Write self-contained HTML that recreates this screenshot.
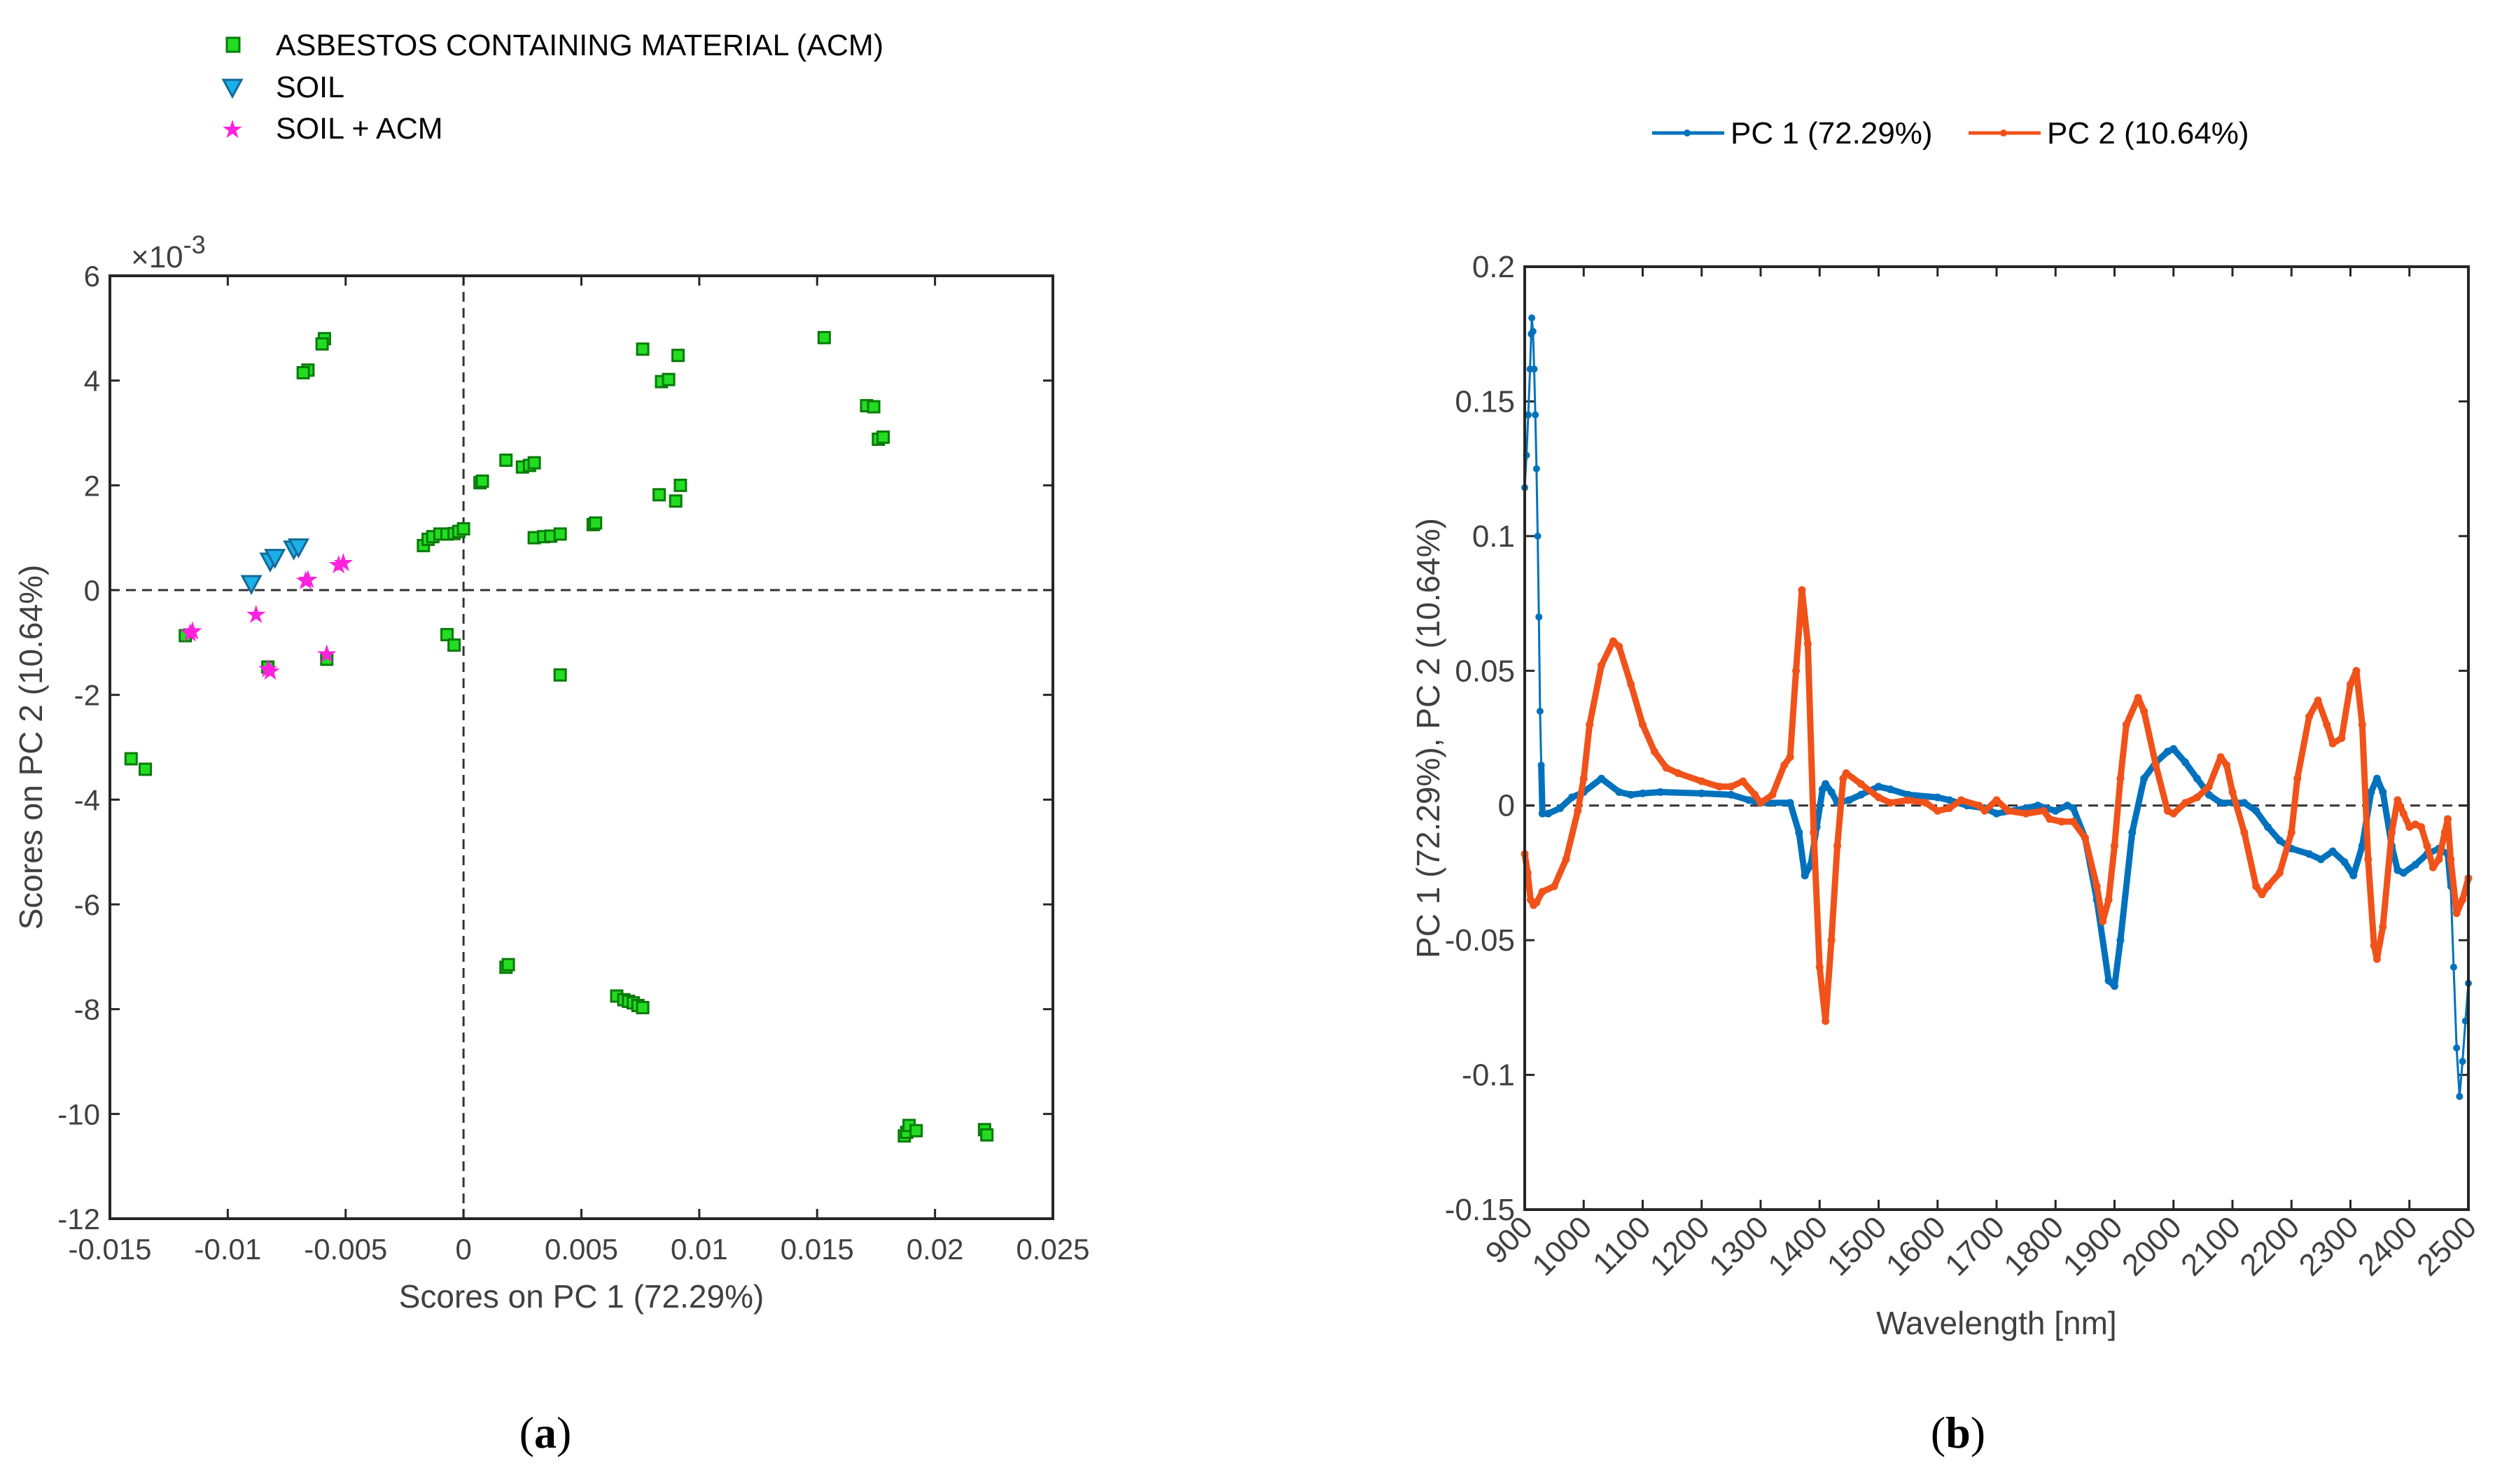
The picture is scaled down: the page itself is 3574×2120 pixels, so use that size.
<!DOCTYPE html>
<html><head><meta charset="utf-8"><style>
html,body{margin:0;padding:0;background:#fff;}
svg{display:block;font-family:"Liberation Sans",Arial,sans-serif;}
</style></head><body>
<svg id="s" width="3574" height="2120" viewBox="0 0 3574 2120">
<g id="legA">
  <rect x="324" y="54" width="18" height="20" fill="#22dd22" stroke="#0a7a0a" stroke-width="3"/>
  <text x="394" y="79" font-size="43" fill="#000">ASBESTOS CONTAINING MATERIAL (ACM)</text>
  <polygon points="319,114 345,114 332,138" fill="#1ab0e8" stroke="#146a96" stroke-width="3"/>
  <text x="394" y="139" font-size="43" fill="#000">SOIL</text>
  <text x="332" y="197" font-size="36" fill="#ff22dd" text-anchor="middle">★</text>
  <text x="394" y="198" font-size="43" fill="#000">SOIL + ACM</text>
</g>
<g>
  <line x1="2360" y1="190" x2="2463" y2="190" stroke="#0072BD" stroke-width="5"/>
  <circle cx="2410" cy="190" r="5" fill="#0072BD"/>
  <text x="2472" y="205" font-size="44" fill="#000">PC 1 (72.29%)</text>
  <line x1="2812" y1="190" x2="2915" y2="190" stroke="#F0521A" stroke-width="5"/>
  <circle cx="2862" cy="190" r="5" fill="#F0521A"/>
  <text x="2924" y="205" font-size="44" fill="#000">PC 2 (10.64%)</text>
</g>
<g id="plotA"></g>
<g id="plotB"></g>
<text x="779" y="2068" font-size="64" font-family="Liberation Serif,serif" text-anchor="middle">(<tspan font-weight="bold">a</tspan>)</text>
<text x="2797" y="2068" font-size="64" font-family="Liberation Serif,serif" text-anchor="middle">(<tspan font-weight="bold">b</tspan>)</text>
</svg>
<script>
// ---- scatter data (PC1 x, PC2 y ×1e-3) ----
const acmX=[-0.0059,-0.0060,-0.0066,-0.0068,0.0076,0.0091,0.0084,0.0087,0.0153,0.0171,0.0174,0.0176,0.0178,0.0018,0.0025,0.0028,0.0030,0.0007,0.0008,0.0083,0.0092,0.0090,0.0055,0.0056,0.0030,0.0034,0.0037,0.0041,-0.0017,-0.0015,-0.0013,-0.0010,-0.0007,-0.0004,-0.0002,0.0000,-0.0007,-0.0004,0.0041,-0.0118,-0.0083,-0.0058,-0.0141,-0.0135,0.0018,0.0019,0.0065,0.0068,0.0070,0.0072,0.0074,0.0076,0.0187,0.0188,0.0189,0.0192,0.0221,0.0222];
const acmY=[4.8,4.7,4.2,4.15,4.6,4.48,3.98,4.02,4.82,3.52,3.5,2.88,2.92,2.48,2.35,2.38,2.43,2.05,2.08,1.82,2.0,1.7,1.25,1.28,1.0,1.02,1.03,1.07,0.85,0.97,1.02,1.07,1.07,1.08,1.12,1.17,-0.85,-1.05,-1.62,-0.87,-1.47,-1.32,-3.22,-3.42,-7.2,-7.15,-7.75,-7.82,-7.85,-7.88,-7.93,-7.97,-10.42,-10.35,-10.22,-10.32,-10.3,-10.4];
const soilX=[-0.0090,-0.0082,-0.0080,-0.0072,-0.0070];
const soilY=[0.12,0.55,0.62,0.78,0.82];
const mixX=[-0.0116,-0.0115,-0.0088,-0.0083,-0.0082,-0.0067,-0.0066,-0.0053,-0.0051,-0.0058];
const mixY=[-0.82,-0.78,-0.47,-1.5,-1.55,0.18,0.2,0.48,0.52,-1.22];
const xTicksA=[-0.015,-0.01,-0.005,0,0.005,0.01,0.015,0.02,0.025];
const yTicksA=[6,4,2,0,-2,-4,-6,-8,-10,-12];
// ---- spectrum data ----
const wl1=[900,903,906,909,911,912,914,916,918,920,922,924,926,928,930,940,960,980,1000,1030,1060,1080,1100,1130,1200,1250,1280,1300,1350,1365,1375,1385,1395,1405,1410,1420,1430,1450,1470,1500,1520,1550,1600,1620,1650,1680,1700,1750,1770,1800,1820,1830,1850,1870,1890,1900,1910,1930,1950,1970,1990,2000,2020,2040,2060,2080,2100,2120,2140,2160,2180,2200,2230,2250,2270,2290,2305,2320,2335,2345,2355,2370,2380,2390,2410,2430,2450,2465,2470,2475,2480,2485,2490,2495,2500];
const pc1=[0.118,0.13,0.145,0.162,0.175,0.181,0.176,0.162,0.145,0.125,0.10,0.07,0.035,0.015,-0.003,-0.003,-0.001,0.003,0.005,0.010,0.005,0.004,0.0045,0.005,0.0045,0.004,0.002,0.001,0.001,-0.01,-0.026,-0.022,-0.008,0.006,0.008,0.005,0.001,0.002,0.004,0.007,0.006,0.004,0.003,0.002,0.000,-0.001,-0.003,-0.001,0.000,-0.002,0.000,-0.001,-0.012,-0.035,-0.065,-0.067,-0.05,-0.01,0.01,0.016,0.02,0.021,0.016,0.01,0.004,0.001,0.001,0.001,-0.002,-0.008,-0.013,-0.016,-0.018,-0.02,-0.017,-0.021,-0.026,-0.015,0.005,0.010,0.005,-0.015,-0.024,-0.025,-0.022,-0.018,-0.016,-0.018,-0.03,-0.06,-0.09,-0.108,-0.095,-0.08,-0.066];
const wl2=[900,905,910,915,920,930,950,970,990,1000,1010,1030,1050,1060,1080,1100,1120,1140,1160,1200,1230,1250,1270,1290,1300,1320,1340,1350,1360,1370,1380,1390,1400,1410,1420,1430,1440,1445,1470,1500,1520,1550,1580,1600,1620,1640,1670,1680,1700,1720,1750,1780,1790,1810,1830,1850,1870,1880,1890,1900,1910,1920,1940,1950,1970,1990,2000,2020,2040,2060,2080,2090,2100,2120,2140,2150,2160,2180,2200,2210,2230,2245,2260,2270,2285,2300,2310,2320,2330,2340,2345,2355,2370,2380,2390,2400,2410,2420,2430,2440,2450,2460,2465,2470,2480,2490,2500];
const pc2=[-0.018,-0.025,-0.035,-0.037,-0.036,-0.032,-0.03,-0.02,-0.002,0.01,0.03,0.052,0.061,0.059,0.045,0.03,0.02,0.014,0.012,0.009,0.007,0.007,0.009,0.004,0.001,0.004,0.015,0.018,0.05,0.08,0.06,-0.01,-0.06,-0.08,-0.05,-0.015,0.01,0.012,0.008,0.003,0.001,0.002,0.001,-0.002,-0.001,0.002,0.000,-0.002,0.002,-0.002,-0.003,-0.002,-0.005,-0.006,-0.006,-0.012,-0.03,-0.043,-0.035,-0.015,0.01,0.03,0.040,0.035,0.015,-0.002,-0.003,0.001,0.003,0.007,0.018,0.015,0.005,-0.01,-0.03,-0.033,-0.03,-0.025,-0.01,0.01,0.033,0.039,0.03,0.023,0.025,0.045,0.05,0.03,-0.02,-0.052,-0.057,-0.045,-0.01,0.002,-0.003,-0.008,-0.007,-0.008,-0.015,-0.023,-0.02,-0.01,-0.005,-0.02,-0.04,-0.035,-0.027];
const xTicksB=[900,1000,1100,1200,1300,1400,1500,1600,1700,1800,1900,2000,2100,2200,2300,2400,2500];
const yTicksB=[0.2,0.15,0.1,0.05,0,-0.05,-0.1,-0.15];

const NS='http://www.w3.org/2000/svg';
function mk(parent,tag,attrs,txt){const e=document.createElementNS(NS,tag);for(const k in attrs)e.setAttribute(k,attrs[k]);if(txt!==undefined)e.textContent=txt;parent.appendChild(e);return e;}
const AX='#262626',TX='#404040';

// ---------- Plot A ----------
const gA=document.getElementById('plotA');
const A={l:157,t:394,r:1504,b:1741};
const ax=v=>A.l+(v+0.015)/0.04*(A.r-A.l);
const ay=v=>A.t+(6-v)/18*(A.b-A.t);
let z=mk(gA,'line',{x1:ax(0),y1:A.t,x2:ax(0),y2:A.b,stroke:'#333','stroke-width':3,'stroke-dasharray':'14 9'});

z=mk(gA,'line',{x1:A.l,y1:ay(0),x2:A.r,y2:ay(0),stroke:'#333','stroke-width':3,'stroke-dasharray':'14 9'});

xTicksA.forEach(v=>{const x=ax(v);
  mk(gA,'line',{x1:x,y1:A.b,x2:x,y2:A.b-14,stroke:AX,'stroke-width':3});
  mk(gA,'line',{x1:x,y1:A.t,x2:x,y2:A.t+14,stroke:AX,'stroke-width':3});
  const t=mk(gA,'text',{x:x,y:A.b+58,'font-size':42,fill:TX,'text-anchor':'middle'},String(v));
  });
yTicksA.forEach(v=>{const y=ay(v);
  mk(gA,'line',{x1:A.l,y1:y,x2:A.l+14,y2:y,stroke:AX,'stroke-width':3});
  mk(gA,'line',{x1:A.r,y1:y,x2:A.r-14,y2:y,stroke:AX,'stroke-width':3});
  const t=mk(gA,'text',{x:A.l-14,y:y+15,'font-size':42,fill:TX,'text-anchor':'end'},String(v));
  });
acmX.forEach((v,i)=>{const m=mk(gA,'rect',{x:ax(v)-8,y:ay(acmY[i])-8,width:16,height:16,fill:'#22dd22',stroke:'#0a7a0a','stroke-width':3});
  });
soilX.forEach((v,i)=>{const x=ax(v),y=ay(soilY[i]);const m=mk(gA,'polygon',{points:`${x-13},${y-11} ${x+13},${y-11} ${x},${y+13}`,fill:'#1ab0e8',stroke:'#146a96','stroke-width':3});
  });
mixX.forEach((v,i)=>{const m=mk(gA,'text',{x:ax(v),y:ay(mixY[i])+12,'font-size':36,fill:'#ff22dd','text-anchor':'middle'},'★');
  });
z=mk(gA,'rect',{x:A.l,y:A.t,width:A.r-A.l,height:A.b-A.t,fill:'none',stroke:AX,'stroke-width':4});

z=mk(gA,'text',{x:A.l+30,y:A.t-12,'font-size':44,fill:TX},'×10');

mk(z,'tspan',{dy:-20,'font-size':36},'-3');
z=mk(gA,'text',{x:(A.l+A.r)/2,y:1868,'font-size':46,fill:TX,'text-anchor':'middle'},'Scores on PC 1 (72.29%)');

z=mk(gA,'text',{x:0,y:0,'font-size':46,fill:TX,'text-anchor':'middle',transform:`translate(60,${(A.t+A.b)/2}) rotate(-90)`},'Scores on PC 2 (10.64%)');


// ---------- Plot B ----------
const gB=document.getElementById('plotB');
const B={l:2178,t:381,r:3526,b:1728};
const bx=v=>B.l+(v-900)/1600*(B.r-B.l);
const by=v=>B.t+(0.2-v)/0.35*(B.b-B.t);
z=mk(gB,'line',{x1:B.l,y1:by(0),x2:B.r,y2:by(0),stroke:'#333','stroke-width':3,'stroke-dasharray':'14 9'});

xTicksB.forEach(v=>{const x=bx(v);
  mk(gB,'line',{x1:x,y1:B.b,x2:x,y2:B.b-14,stroke:AX,'stroke-width':3});
  mk(gB,'line',{x1:x,y1:B.t,x2:x,y2:B.t+14,stroke:AX,'stroke-width':3});
  const t=mk(gB,'text',{x:0,y:0,'font-size':44,fill:TX,'text-anchor':'end',transform:`translate(${x+14},${B.b+28}) rotate(-45)`},String(v));
  });
yTicksB.forEach(v=>{const y=by(v);
  mk(gB,'line',{x1:B.l,y1:y,x2:B.l+14,y2:y,stroke:AX,'stroke-width':3});
  mk(gB,'line',{x1:B.r,y1:y,x2:B.r-14,y2:y,stroke:AX,'stroke-width':3});
  const t=mk(gB,'text',{x:B.l-14,y:y+15,'font-size':44,fill:TX,'text-anchor':'end'},String(v));
  });
function series(wl,vals,col,name,thin){
  const g=mk(gB,'g',{});
  
  for(let i=0;i<wl.length-1;i++){
    const sparse=thin(wl[i])&&thin(wl[i+1]);
    const l=mk(g,'line',{x1:bx(wl[i]),y1:by(vals[i]),x2:bx(wl[i+1]),y2:by(vals[i+1]),stroke:col,'stroke-width':sparse?3:9,'stroke-linecap':'round'});
    
  }
  wl.forEach((w,i)=>{const c=mk(g,'circle',{cx:bx(w),cy:by(vals[i]),r:thin(w)?5:5.5,fill:col});
    });
}
series(wl1,pc1,'#0072BD','pc1-series',w=>w<930||w>2465);
series(wl2,pc2,'#F0521A','pc2-series',w=>false);
z=mk(gB,'rect',{x:B.l,y:B.t,width:B.r-B.l,height:B.b-B.t,fill:'none',stroke:AX,'stroke-width':4});

z=mk(gB,'text',{x:(B.l+B.r)/2,y:1906,'font-size':46,fill:TX,'text-anchor':'middle'},'Wavelength [nm]');

z=mk(gB,'text',{x:0,y:0,'font-size':46,fill:TX,'text-anchor':'middle',transform:`translate(2056,${(B.t+B.b)/2}) rotate(-90)`},'PC 1 (72.29%), PC 2 (10.64%)');

</script>
</body></html>
